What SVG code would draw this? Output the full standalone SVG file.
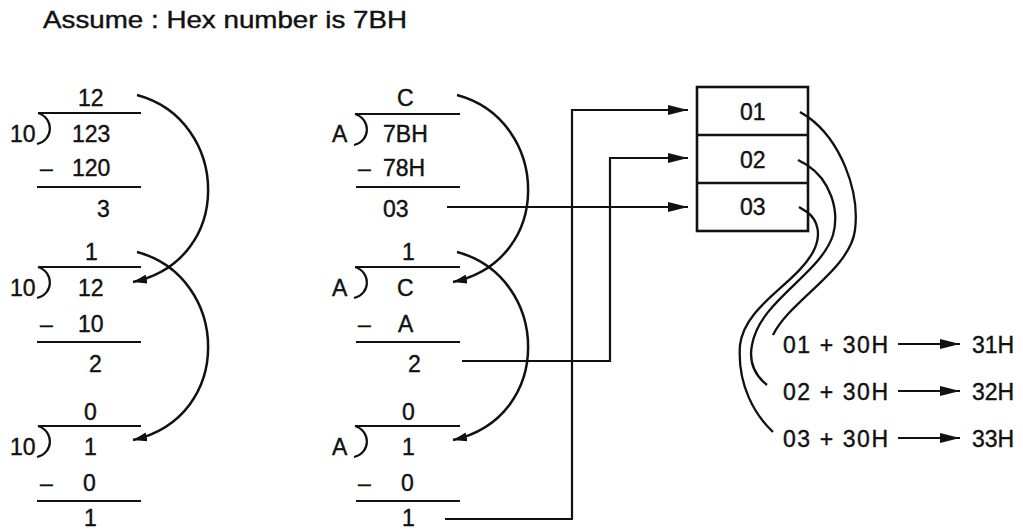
<svg xmlns="http://www.w3.org/2000/svg" width="1023" height="529" viewBox="0 0 1023 529">
<defs>
<style>
text{font-family:"Liberation Sans",Arial,sans-serif;font-size:23px;fill:#111;stroke:#111;stroke-width:0.4}
.t{font-size:24px}
.ln{stroke:#111;stroke-width:2.2;fill:none}
.arc{stroke:#111;stroke-width:2.5;fill:none}
.cv{stroke:#111;stroke-width:2.3;fill:none}
.box{stroke:#111;stroke-width:2.6;fill:#fff}
</style>
<marker id="ah" markerUnits="userSpaceOnUse" markerWidth="20" markerHeight="10" refX="20" refY="5" orient="auto"><path d="M0,0 L20,5 L0,10 Z" fill="#111"/></marker>
<marker id="ahs" markerUnits="userSpaceOnUse" markerWidth="14" markerHeight="9" refX="14" refY="4.5" orient="auto"><path d="M0,0 L14,4.5 L0,9 Z" fill="#111"/></marker>
</defs>
<rect width="1023" height="529" fill="#fff"/>
<text id="title" class="t" x="43" y="28" textLength="364" lengthAdjust="spacingAndGlyphs">Assume : Hex number is 7BH</text>

<g id="dec-div1">
<text x="78" y="106">12</text>
<line class="ln" x1="38" y1="113" x2="141" y2="113"/>
<path class="ln" d="M38,113 C54,118 54,140 37,144"/>
<text x="10" y="142">10</text>
<text x="72" y="142">123</text>
<text y="176"><tspan x="40">–</tspan><tspan x="72">120</tspan></text>
<line class="ln" x1="37" y1="187" x2="141" y2="187"/>
<text x="97" y="217">3</text>
</g>
<g id="dec-div2">
<text x="85" y="260">1</text>
<line class="ln" x1="38" y1="267" x2="141" y2="267"/>
<path class="ln" d="M38,267 C54,272 54,294 37,298"/>
<text x="10" y="296">10</text>
<text x="78" y="296">12</text>
<text y="332"><tspan x="40">–</tspan><tspan x="78">10</tspan></text>
<line class="ln" x1="37" y1="342" x2="141" y2="342"/>
<text x="89" y="372">2</text>
</g>
<g id="dec-div3">
<text x="84" y="420">0</text>
<line class="ln" x1="38" y1="426" x2="141" y2="426"/>
<path class="ln" d="M38,426 C54,431 54,453 37,457"/>
<text x="10" y="455">10</text>
<text x="84" y="455">1</text>
<text y="491"><tspan x="40">–</tspan><tspan x="83">0</tspan></text>
<line class="ln" x1="37" y1="501" x2="141" y2="501"/>
<text x="84" y="526">1</text>
</g>

<g id="hex-div1">
<text x="397" y="106">C</text>
<line class="ln" x1="355" y1="114" x2="460" y2="114"/>
<path class="ln" d="M355,114 C371,119 371,141 354,145"/>
<text x="332" y="142">A</text>
<text x="383" y="142">7BH</text>
<text y="176"><tspan x="358">–</tspan><tspan x="383">78H</tspan></text>
<line class="ln" x1="356" y1="187" x2="460" y2="187"/>
<text x="383" y="217">03</text>
</g>
<g id="hex-div2">
<text x="402" y="260">1</text>
<line class="ln" x1="355" y1="267" x2="460" y2="267"/>
<path class="ln" d="M355,267 C371,272 371,294 354,298"/>
<text x="332" y="296">A</text>
<text x="397" y="296">C</text>
<text y="332"><tspan x="358">–</tspan><tspan x="398">A</tspan></text>
<line class="ln" x1="356" y1="342" x2="460" y2="342"/>
<text x="408" y="372">2</text>
</g>
<g id="hex-div3">
<text x="402" y="420">0</text>
<line class="ln" x1="355" y1="426" x2="460" y2="426"/>
<path class="ln" d="M355,426 C371,431 371,453 354,457"/>
<text x="332" y="455">A</text>
<text x="402" y="455">1</text>
<text y="491"><tspan x="358">–</tspan><tspan x="401">0</tspan></text>
<line class="ln" x1="356" y1="501" x2="460" y2="501"/>
<text x="402" y="526">1</text>
</g>

<g id="memory">
<rect class="box" x="697" y="87" width="111" height="144"/>
<line class="box" x1="697" y1="135" x2="808" y2="135"/>
<line class="box" x1="697" y1="183" x2="808" y2="183"/>
<text x="740" y="120">01</text>
<text x="740" y="168">02</text>
<text x="740" y="215">03</text>
</g>

<g id="results">
<text x="783" y="353" textLength="105" lengthAdjust="spacing">01 + 30H</text>
<text x="972" y="353">31H</text>
<text x="783" y="400" textLength="105" lengthAdjust="spacing">02 + 30H</text>
<text x="972" y="400">32H</text>
<text x="783" y="447" textLength="105" lengthAdjust="spacing">03 + 30H</text>
<text x="972" y="447">33H</text>
</g>

<g id="connectors">
<path class="arc" marker-end="url(#ahs)" d="M137,95 C230,120 235,260 133,282"/>
<path class="arc" marker-end="url(#ahs)" d="M137,252 C230,277 235,417 133,440"/>
<path class="arc" marker-end="url(#ahs)" d="M457,95 C550,120 555,260 453,282"/>
<path class="arc" marker-end="url(#ahs)" d="M457,252 C550,277 555,417 453,440"/>
<path class="ln" marker-end="url(#ah)" d="M447,207 L688,207"/>
<path class="ln" marker-end="url(#ah)" d="M462,361 L610,361 L610,158 L688,158"/>
<path class="ln" marker-end="url(#ah)" d="M445,519 L572,519 L572,110 L688,110"/>
<path class="cv" d="M800,112 L808,117 C840,140 860,190 855,230 C850,270 790,300 773,335"/>
<path class="cv" d="M798,160 L807,165 C830,180 840,210 833,235 C820,275 760,300 752,345 C748,365 757,377 767,385"/>
<path class="cv" d="M799,207 L807,212 C818,220 822,235 813,252 C795,285 745,305 740,345 C737,385 755,415 773,432"/>
<path class="ln" marker-end="url(#ah)" d="M898,344 L960,344"/>
<path class="ln" marker-end="url(#ah)" d="M898,391 L960,391"/>
<path class="ln" marker-end="url(#ah)" d="M898,438 L960,438"/>
</g>
</svg>
